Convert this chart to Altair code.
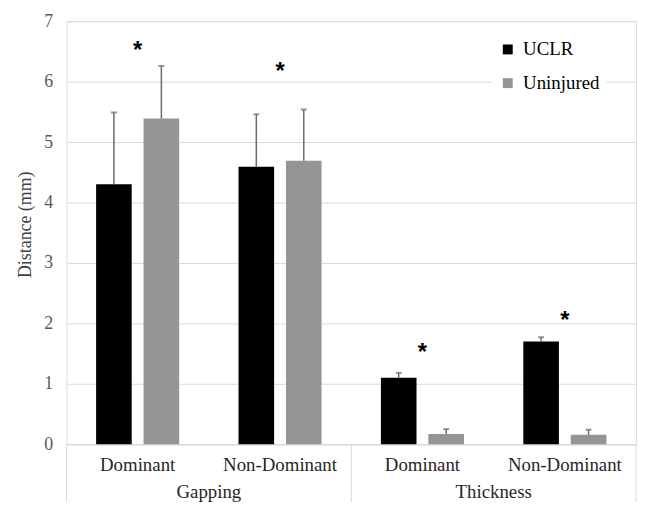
import altair as alt
import pandas as pd

# ---- data ----
group_names = ["Gapping", "Thickness"]
groups = ["Gapping", "Gapping", "Thickness", "Thickness"]
subs = ["Dominant", "Non-Dominant", "Dominant", "Non-Dominant"]
series_names = ["UCLR", "Uninjured"]
uclr = [4.30, 4.59, 1.10, 1.70]
uclr_top = [5.49, 5.46, 1.18, 1.77]
uninjured = [5.39, 4.69, 0.17, 0.155]
uninjured_top = [6.26, 5.54, 0.25, 0.24]
star_y = [6.6, 6.25, 1.60, 2.14]
y_ticks = [0, 1, 2, 3, 4, 5, 6, 7]
colors = ["#000000", "#959595"]

SERIF = "Liberation Serif"
W, H = 575, 427

keys = [f"{g}|{s}" for g, s in zip(groups, subs)]
rows = []
for k, g, s, u, ut, n, nt in zip(keys, groups, subs, uclr, uclr_top, uninjured, uninjured_top):
    rows.append(dict(key=k, group=g, sub=s, series="UCLR", value=u, top=ut))
    rows.append(dict(key=k, group=g, sub=s, series="Uninjured", value=n, top=nt))
df = pd.DataFrame(rows)
stars = pd.DataFrame(dict(key=keys, y=star_y))
gdf = pd.DataFrame(dict(group=group_names))

xscale = alt.Scale(domain=keys, paddingInner=0, paddingOuter=0)
xoff = alt.Scale(domain=series_names, paddingInner=0.25, paddingOuter=0.625)
yscale = alt.Scale(domain=[0, 7], nice=False)
gscale = alt.Scale(domain=group_names, paddingInner=0, paddingOuter=0)

x_axis = alt.Axis(labelExpr="split(datum.label,'|')[1]", labelPadding=21,
                  labelBaseline="middle", labelAngle=0, ticks=False, tickSize=0,
                  labelFont=SERIF, labelFontSize=19, labelColor="#262626",
                  domainColor="#d9d9d9", domainWidth=1, grid=False)
y_axis = alt.Axis(values=y_ticks, format="d", domain=False, ticks=False, tickSize=0,
                  labelFont=SERIF, labelFontSize=18, labelColor="#595959",
                  labelPadding=14, gridColor="#d9d9d9", gridWidth=1,
                  titleFont=SERIF, titleFontSize=18, titleColor="#404040",
                  titleFontWeight="normal",
                  titleX=-41, titleY=205, titleBaseline="middle")


def xk():
    return alt.X("key:N", scale=xscale, sort=keys, title=None, axis=x_axis)


def yq(field):
    return alt.Y(field, scale=yscale, title="Distance (mm)", axis=y_axis)


bars = alt.Chart(df).mark_bar().encode(
    x=xk(),
    xOffset=alt.XOffset("series:N", scale=xoff),
    y=yq("value:Q"),
    color=alt.Color(
        "series:N", scale=alt.Scale(domain=series_names, range=colors),
        legend=alt.Legend(title=None, orient="none", legendX=430, legendY=13,
                          symbolType="square", symbolSize=100, symbolStrokeWidth=0,
                          labelFont=SERIF, labelFontSize=19, labelColor="#000000",
                          labelOffset=6, rowPadding=14, fillColor="white",
                          padding=6, offset=0),
    ),
)

err = alt.Chart(df).mark_rule(color="#6a6a6a", strokeWidth=1.5).encode(
    x=xk(),
    xOffset=alt.XOffset("series:N", scale=xoff),
    y=yq("value:Q"),
    y2="top:Q",
)
caps = alt.Chart(df).mark_tick(color="#6a6a6a", thickness=2, size=6).encode(
    x=xk(),
    xOffset=alt.XOffset("series:N", scale=xoff),
    y=yq("top:Q"),
)
star = alt.Chart(stars).mark_text(text="*", font="Liberation Sans", fontSize=24,
                                   fontWeight="bold", color="#000000", dy=6).encode(
    x=xk(),
    y=yq("y:Q"),
)

inner = alt.layer(bars, err, caps, star)

gtext = alt.Chart(gdf).mark_text(font=SERIF, fontSize=19, color="#262626",
                                 baseline="alphabetic").encode(
    x=alt.X("group:N", scale=gscale, axis=None),
    y=alt.value(H + 54),
    text="group:N",
)
gleft = alt.Chart(gdf).mark_rule(color="#d9d9d9").encode(
    x=alt.X("group:N", scale=gscale, axis=None, bandPosition=0),
    y=alt.value(H),
    y2=alt.value(H + 60),
)
gright = alt.Chart(gdf).transform_filter(
    alt.datum.group == group_names[-1]
).mark_rule(color="#d9d9d9").encode(
    x=alt.X("group:N", scale=gscale, axis=None, bandPosition=1),
    y=alt.value(H),
    y2=alt.value(H + 60),
)
glayer = alt.layer(gtext, gleft, gright)

chart = alt.layer(inner, glayer).resolve_scale(x="independent").properties(
    width=W, height=H,
    autosize=alt.AutoSizeParams(type="none"),
    padding={"left": 59, "top": 11, "right": 5, "bottom": 56},
).configure_view(stroke=None).configure_axis(
    labelFont=SERIF, titleFont=SERIF, titleFontWeight="normal",
).configure_legend(
    labelFont=SERIF,
).configure(
    font=SERIF,
    style={"guide-label": {"font": SERIF}, "guide-title": {"font": SERIF}},
)

chart.save("out.html", embed_options={"renderer": "svg", "actions": False})
